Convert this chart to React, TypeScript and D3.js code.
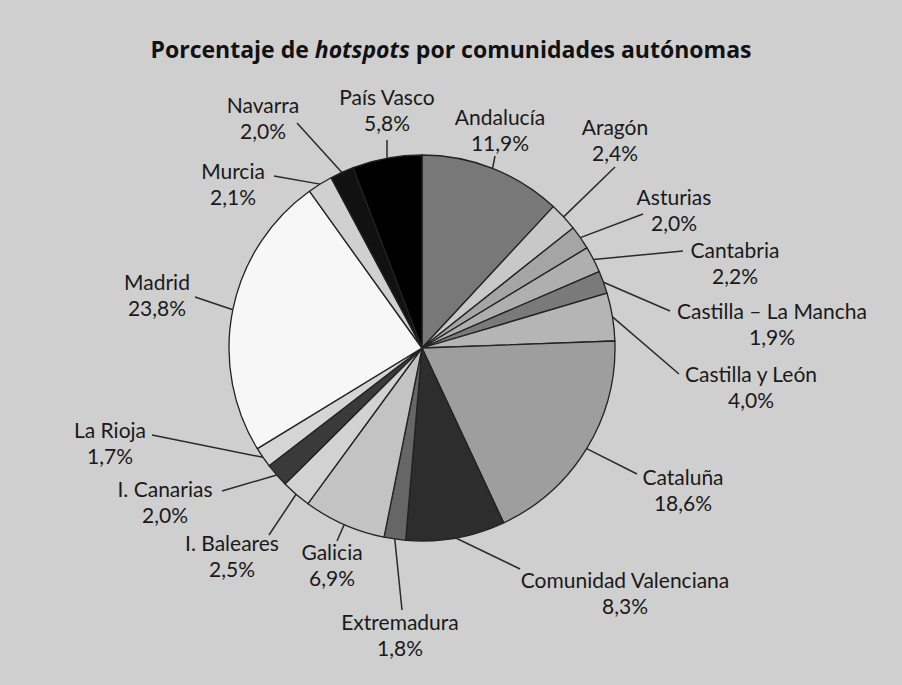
import React from "react";
import * as d3 from "d3";

const regions = [
  "Andalucía", "Aragón", "Asturias", "Cantabria", "Castilla – La Mancha",
  "Castilla y León", "Cataluña", "Comunidad Valenciana", "Extremadura", "Galicia",
  "I. Baleares", "I. Canarias", "La Rioja", "Madrid", "Murcia", "Navarra", "País Vasco",
];
const percentages = [11.9, 2.4, 2.0, 2.2, 1.9, 4.0, 18.6, 8.3, 1.8, 6.9, 2.5, 2.0, 1.7, 23.8, 2.1, 2.0, 5.8];

const fills = [
  "#787878", "#c8c8c8", "#a5a5a5", "#afafaf", "#7a7a7a",
  "#b5b5b5", "#9e9e9e", "#2d2d2d", "#666666", "#c3c3c3",
  "#d2d2d2", "#3a3a3a", "#d5d5d5", "#f7f7f7", "#d0d0d0", "#111111", "#000000",
];

// label layout: text center x, name baseline y, leader line end
const labelLayout = [
  { tx: 500, ty: 125, lx: 495, ly: 156 },
  { tx: 615, ty: 135, lx: 615, ly: 167 },
  { tx: 674, ty: 205, lx: 643, ly: 214 },
  { tx: 735, ty: 258, lx: 683, ly: 251 },
  { tx: 772, ty: 319, lx: 670, ly: 311 },
  { tx: 751, ty: 382, lx: 679, ly: 374 },
  { tx: 683, ty: 485, lx: 637, ly: 474 },
  { tx: 625, ty: 588, lx: 520, ly: 569 },
  { tx: 400, ty: 630, lx: 402, ly: 610 },
  { tx: 332, ty: 560, lx: 337, ly: 541 },
  { tx: 232, ty: 551, lx: 269, ly: 535 },
  { tx: 165, ty: 497, lx: 222, ly: 491 },
  { tx: 110, ty: 438, lx: 152, ly: 435 },
  { tx: 157, ty: 290, lx: 195, ly: 297 },
  { tx: 233, ty: 179, lx: 274, ly: 176 },
  { tx: 263, ty: 113, lx: 297, ly: 123 },
  { tx: 387, ty: 105, lx: 387, ly: 140 },
];

const W = 902;
const H = 685;
const CX = 422;
const CY = 348;
const R = 193;

export default function App() {
  const data = regions.map((name, i) => ({ name, value: percentages[i], i }));
  const pie = d3.pie<any>().sort(null).value((d: any) => d.value).startAngle(0).endAngle(2 * Math.PI);
  const arcs = pie(data);
  const arc = d3.arc<any>().innerRadius(0).outerRadius(R);
  const fmt = (v: number) => v.toFixed(1).replace(".", ",") + "%";
  const font = "Lato, 'Open Sans', sans-serif";

  return (
    <svg width={W} height={H} style={{ position: "absolute", left: 0, top: 0 }}>
      <rect x={0} y={0} width={W} height={H} fill="#cfcfcf" />
      <text x={451} y={58} textAnchor="middle" fontFamily="'Open Sans', sans-serif" fontWeight="bold" fontSize={23} fill="#111">
        Porcentaje de <tspan fontStyle="italic">hotspots</tspan> por comunidades autónomas
      </text>
      <g transform={`translate(${CX},${CY})`}>
        {arcs.map((a: any, i: number) => (
          <path key={i} d={arc(a) as string} fill={fills[i]} stroke="#222" strokeWidth={1.3} strokeLinejoin="round" />
        ))}
      </g>
      {arcs.map((a: any, i: number) => {
        const mid = (a.startAngle + a.endAngle) / 2;
        const sx = CX + R * Math.sin(mid);
        const sy = CY - R * Math.cos(mid);
        const L = labelLayout[i];
        return (
          <g key={"l" + i}>
            <line x1={sx} y1={sy} x2={L.lx} y2={L.ly} stroke="#2a2a2a" strokeWidth={1.5} />
            <text x={L.tx} y={L.ty} textAnchor="middle" fontFamily={font} fontSize={21} fill="#1a1a1a">
              {regions[i]}
            </text>
            <text x={L.tx} y={L.ty + 26} textAnchor="middle" fontFamily={font} fontSize={21} fill="#1a1a1a">
              {fmt(percentages[i])}
            </text>
          </g>
        );
      })}
    </svg>
  );
}
